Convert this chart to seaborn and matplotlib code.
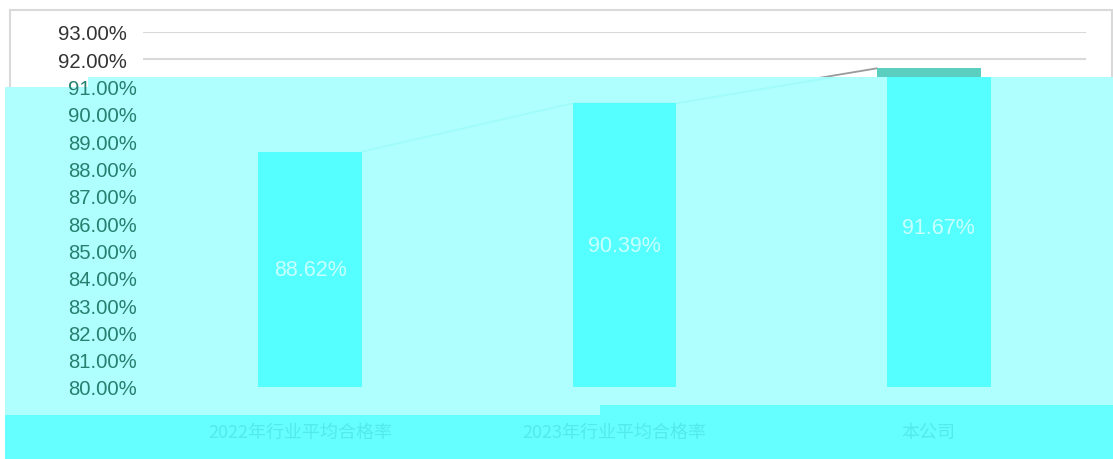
import matplotlib
matplotlib.use("Agg")
import matplotlib.pyplot as plt
from matplotlib.patches import Rectangle, Polygon
from matplotlib.transforms import ScaledTranslation
import seaborn as sns

# ---- data ----
categories = ["2022年行业平均合格率", "2023年行业平均合格率", "本公司"]
values = [88.62, 90.39, 91.67]
y_ticks = list(range(80, 94))
y_min, y_max = 80, 93

W, H = 1113, 460

sns.set_theme(style="white")
plt.rcParams["font.family"] = ["Liberation Sans", "Noto Sans CJK SC", "DejaVu Sans"]

fig = plt.figure(figsize=(W / 100, H / 100), dpi=100)
fig.patch.set_facecolor("white")
ax = fig.add_axes([143 / W, 1 - 388 / H, (1086 - 143) / W, (388 - 33) / H])
ax.patch.set_alpha(0)

# the tinted band of the reference shifts its content 10 px to the right
shift = ScaledTranslation(10 / 100, 0, fig.dpi_scale_trans)


def px(x, y):
    return (x / W, 1 - y / H)


# chart frame
frame = Rectangle(px(10, 459), (1112 - 10) / W, (459 - 11) / H, transform=fig.transFigure,
                  fill=False, ec="#d9d9d9", lw=1.5, zorder=0.3, clip_on=False)
ax.add_patch(frame)

# tinted overlay regions of the reference image
light = Polygon([px(88, 78), px(1113, 78), px(1113, 416), px(5, 416), px(5, 88), px(88, 88)],
                closed=True, transform=fig.transFigure, fc="#b0ffff", ec="none",
                zorder=0.8, clip_on=False)
ax.add_patch(light)
bright = Polygon([px(5, 416), px(600, 416), px(600, 406), px(1113, 406), px(1113, 460), px(5, 460)],
                 closed=True, transform=fig.transFigure, fc="#66ffff", ec="none",
                 zorder=0.9, clip_on=False)
ax.add_patch(bright)

bar_w = 0.33
sns.barplot(x=categories, y=values, color="#55ffff", saturation=1, width=bar_w,
            linewidth=0, edgecolor="none", ax=ax, zorder=2)

# clip regions: above the tinted band (original colours) and inside it (shifted)
top_clip = Rectangle(px(0, 78), 1, (78 - 20) / H, transform=fig.transFigure)
band_clip = Rectangle(px(0, 388), 1, (388 - 78) / H, transform=fig.transFigure)

bar_rects = [b for b in ax.patches
             if isinstance(b, Rectangle) and b is not frame and abs(b.get_width() - bar_w) < 1e-6]
bar_rects = sorted(bar_rects, key=lambda b: b.get_x())
for b in bar_rects:
    r = Rectangle(b.get_xy(), b.get_width(), b.get_height(), fc="#5bcfbf", ec="none",
                  zorder=2.1)
    ax.add_patch(r)
    r.set_clip_path(top_clip)
    b.set_transform(ax.transData + shift)
    b.set_clip_path(band_clip)

# connecting line between bar tops
lx, ly = [], []
for b, v in zip(bar_rects, values):
    lx += [b.get_x(), b.get_x() + b.get_width()]
    ly += [v, v]
lx, ly = lx[1:-1], ly[1:-1]
bl, = ax.plot(lx, ly, color="#9ffcf8", lw=1.3, zorder=1.5, transform=ax.transData + shift)
bl.set_clip_path(band_clip)
gl, = ax.plot(lx, ly, color="#9a9a9a", lw=1.3, zorder=1.6)
gl.set_clip_path(top_clip)

# value labels centred in bars
for i, v in enumerate(values):
    ax.text(i, (y_min + v) / 2, f"{v:.2f}%", ha="center", va="center",
            fontsize=15.5, color="#c8ffff", zorder=3, transform=ax.transData + shift)

ax.set_ylim(y_min, y_max)
ax.set_yticks(y_ticks)
ax.set_yticklabels([f"{t:.2f}%" for t in y_ticks], fontsize=14.6)
ax.tick_params(axis="y", length=0)
for tick, t in zip(ax.yaxis.get_major_ticks(), y_ticks):
    if t >= 92:
        tick.label1.set_color("#333333")
        tick.set_pad(11.5)
    else:
        tick.label1.set_color("#25806f")
        tick.set_pad(4.3)
ax.set_xlim(-0.5, len(categories) - 0.5)
ax.tick_params(axis="x", length=0, pad=26, labelsize=13, labelcolor="#52eaea")
for lab in ax.get_xticklabels():
    lab.set_family(["Noto Sans CJK SC", "DejaVu Sans"])

ax.set_axisbelow(False)
ax.grid(axis="y", color="#d9d9d9", lw=1.5)
for line, t in zip(ax.get_ygridlines(), y_ticks):
    line.set_visible(t >= 92)
ax.grid(axis="x", visible=False)
for s in ax.spines.values():
    s.set_visible(False)
ax.set_xlabel("")
ax.set_ylabel("")

fig.savefig("out.png", dpi=100, facecolor="white")
